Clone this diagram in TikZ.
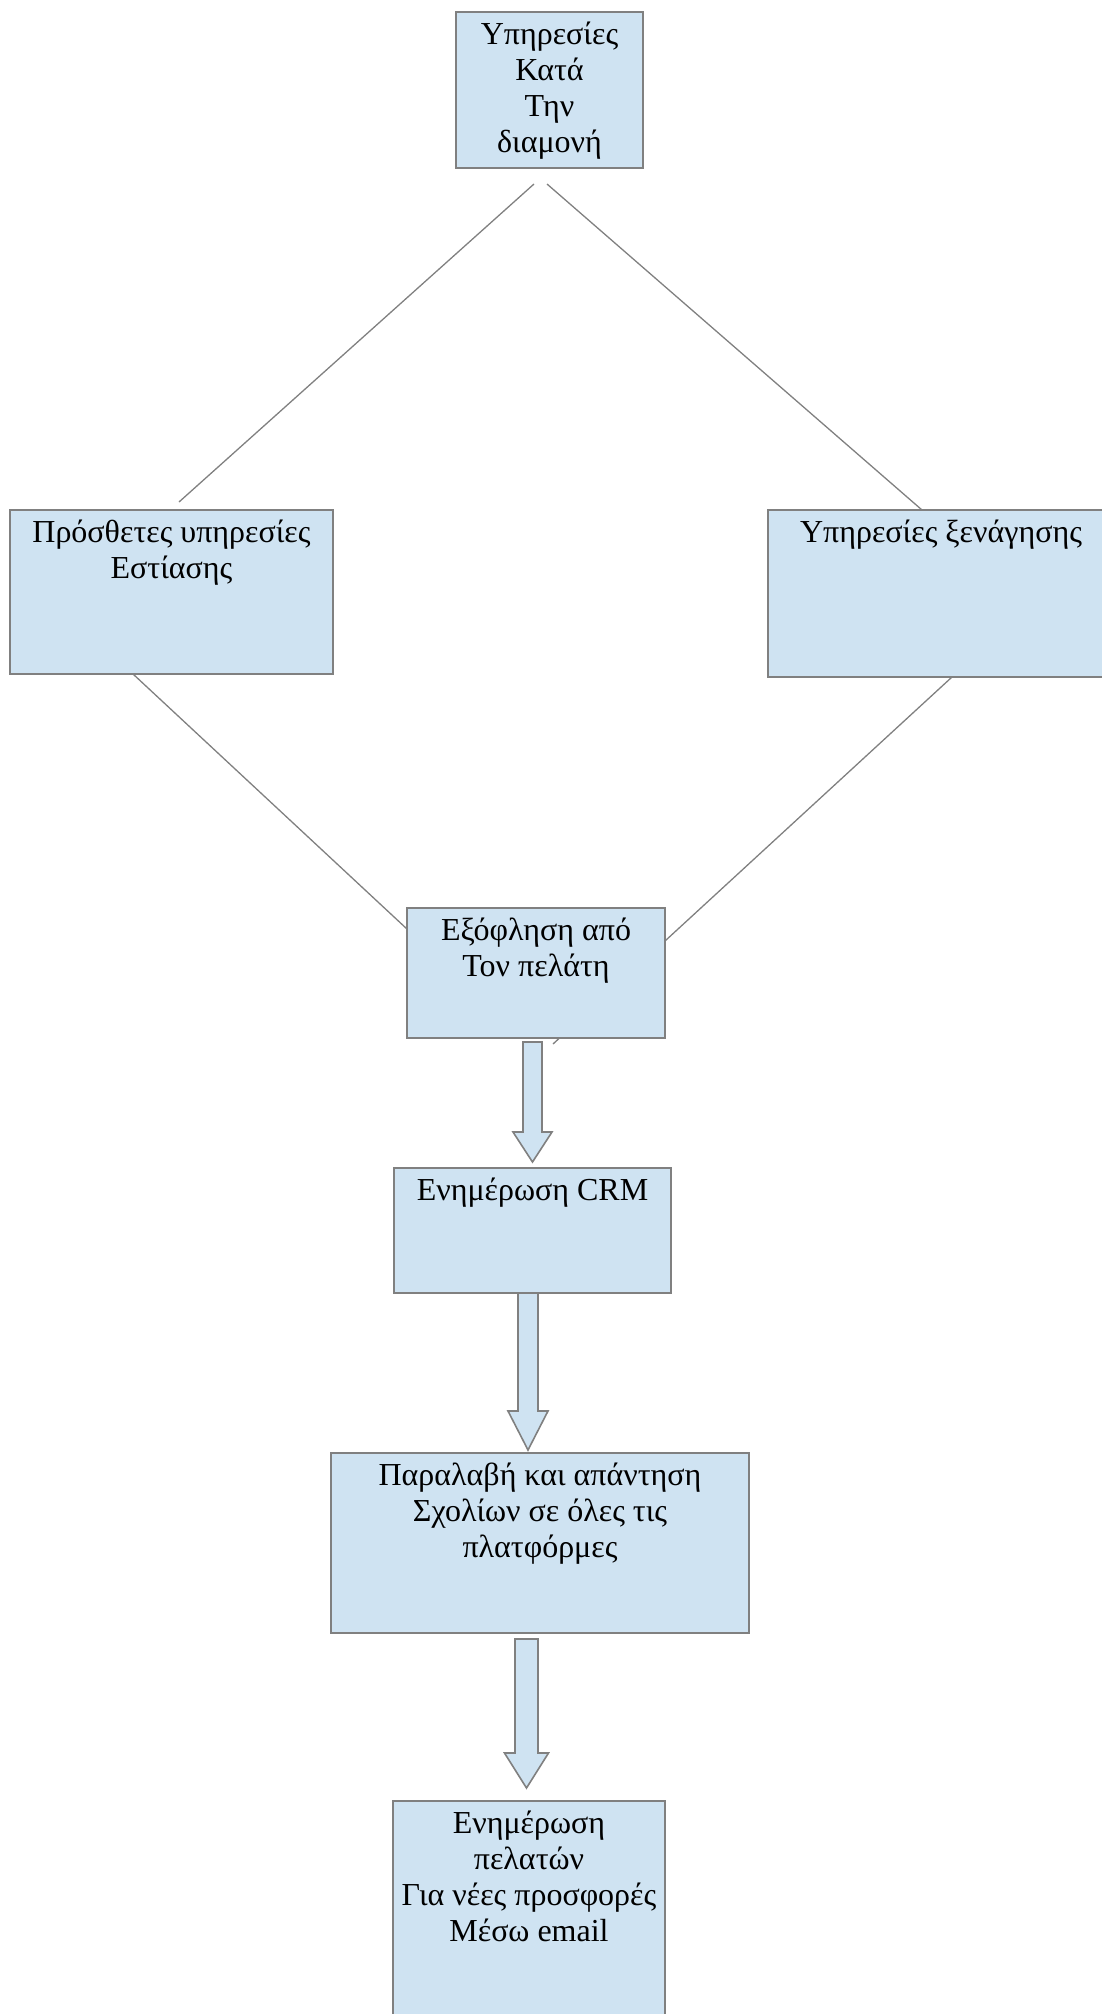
\documentclass[tikz,border=0pt]{standalone}
\usepackage{fontspec}
\setmainfont{Liberation Serif}
\usetikzlibrary{positioning, backgrounds}
\definecolor{boxblue}{RGB}{207,227,242}
\definecolor{edgegray}{RGB}{128,128,128}
\tikzset{
  block/.style = {rectangle, draw=edgegray, line width=1.6pt, fill=boxblue, inner sep=0pt, outer sep=0pt, font=\fontsize{32}{36}\selectfont},
  link/.style = {draw=edgegray, line width=1.3pt},
  fat/.style = {draw=edgegray, line width=1.6pt, fill=boxblue}
}
% box text: width, height, lines (first baseline 32pt below the top)
\newcommand{\boxtext}[3]{\parbox[c][#2][t]{#1}{\centering\rule{0pt}{32pt}#3}}
% hollow arrow: tail, tip, half shaft, half head, head length
\newcommand{\fatarrow}[5]{%
  \draw[fat] ([xshift=-#3pt]#1) -- ([xshift=-#3pt, yshift=#5pt]#2) -- ([xshift=-#4pt, yshift=#5pt]#2) -- (#2)
    -- ([xshift=#4pt, yshift=#5pt]#2) -- ([xshift=#3pt, yshift=#5pt]#2) -- ([xshift=#3pt]#1) -- cycle;}

\begin{document}
\begin{tikzpicture}[x=1pt, y=-1pt]
\useasboundingbox (0,0) rectangle (1102,2014);
\node[block, anchor=north](stay) at (549.5,12) {\boxtext{187pt}{156pt}{Υπηρεσίες\\Κατά\\Την\\διαμονή}};
\node[block, below left=342pt and 123pt of stay](food) {\boxtext{323pt}{164pt}{Πρόσθετες υπηρεσίες\\Εστίασης}};
\node[block, below right=342pt and 125pt of stay](tour) {\boxtext{346pt}{167pt}{Υπηρεσίες ξενάγησης}};
\node[block, below right=234pt and 74pt of food](pay) {\boxtext{258pt}{130pt}{Εξόφληση από\\Τον πελάτη}};
\node[block, below=130pt of pay, xshift=-3.5pt](crm) {\boxtext{277pt}{125pt}{Ενημέρωση CRM}};
\node[block, below=160pt of crm, xshift=7.5pt](reviews) {\boxtext{418pt}{180pt}{Παραλαβή και απάντηση\\Σχολίων σε όλες τις\\πλατφόρμες}};
\node[block, below=168pt of reviews, xshift=-11pt](mail) {\boxtext{272pt}{260pt}{Ενημέρωση\\πελατών\\Για νέες προσφορές\\Μέσω email}};

\begin{pgfonlayer}{background}
\draw[link] ([xshift=-15.5pt, yshift=-16pt]stay.south) -- ([xshift=7.5pt, yshift=8pt]food.north);
\draw[link] ([xshift=-2.5pt, yshift=-16pt]stay.south) -- ([xshift=-19pt]tour.north);
\draw[link] ([xshift=-38.5pt]food.south) -- ([yshift=-21pt]pay.north west);
\draw[link] ([xshift=11pt]tour.south) -- ([xshift=17pt, yshift=-6pt]pay.south);
\end{pgfonlayer}

\coordinate (a1) at ([xshift=-3.5pt, yshift=-4pt]pay.south);
\coordinate (b1) at ([yshift=6pt]crm.north);
\coordinate (a2) at ([xshift=-4.5pt]crm.south);
\coordinate (b2) at ([xshift=-12pt, yshift=3pt]reviews.north);
\coordinate (a3) at ([xshift=-13.5pt, yshift=-6pt]reviews.south);
\coordinate (b3) at ([xshift=-2.5pt, yshift=13pt]mail.north);
\fatarrow{a1}{b1}{9.5}{19.5}{30}
\fatarrow{a2}{b2}{10}{20}{39}
\fatarrow{a3}{b3}{11.5}{22}{35}
\end{tikzpicture}
\end{document}
